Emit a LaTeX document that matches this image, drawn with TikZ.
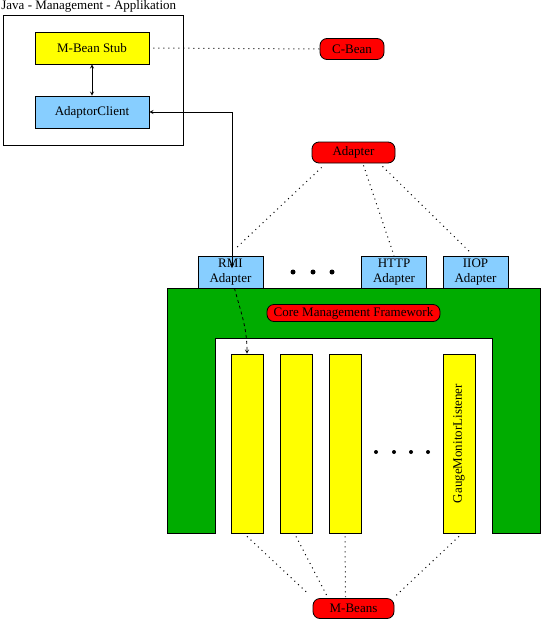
\documentclass[tikz,border=0pt]{standalone}
\usepackage{fontspec}
\setmainfont{Liberation Serif}
\usetikzlibrary{arrows}
\definecolor{stubyellow}{RGB}{255,255,0}
\definecolor{ltblue}{RGB}{135,206,255}
\definecolor{fwgreen}{RGB}{0,172,0}

\begin{document}
\begin{tikzpicture}[x=1pt, y=-1pt, line width=0.8pt, >=stealth,
		every node/.style={font=\fontsize{13}{14.5}\selectfont, inner sep=0pt},
		ybox/.style={draw, fill=stubyellow, minimum width=114pt, minimum height=32pt},
		bbox/.style={draw, fill=ltblue, align=center, minimum width=65pt, minimum height=32pt},
		bean/.style={draw, fill=red, rounded corners=7pt, minimum height=21pt},
		bar/.style={draw, fill=stubyellow, minimum width=32pt, minimum height=179pt},
		dots/.style={line width=1pt, dash pattern=on 1pt off 4pt}]
		\useasboundingbox (0,0) rectangle (542,619);
		
		\node (title) at (1,0.5) [anchor=north west] {Java - Management - Applikation};
		\node (app) at (93,80) [draw, minimum width=180pt, minimum height=130pt] {};
		\node (stub) at (92,48) [ybox] {M-Bean Stub};
		\node (client) at (92,112) [bbox, minimum width=114pt] {AdaptorClient};
		\node (cbean) at (352,49) [bean, minimum width=64pt] {C-Bean};
		\node (adapter) at (353.5,152.5) [bean, minimum width=83pt] {Adapter};
		
		\draw[<->] (stub) -- (client);
		\draw[dots, shorten <=4pt] (stub.east) -- (cbean.west);
		
		\filldraw[fill=fwgreen] (167,288) -- (540,288) -- (540,533) -- (492,533) -- (492,338) -- (215,338) -- (215,533) -- (167,533) -- cycle;
		
		\node (rmi) at (230.5,272) [bbox] {RMI\\Adapter};
		\node (http) at (394,272) [bbox] {HTTP\\Adapter};
		\node (iiop) at (475.5,272) [bbox] {IIOP\\Adapter};
		\foreach \x in {293,313,332}
			\fill (\x,272) circle (2.5pt);
		
		\node (core) at (353.5,313) [bean, minimum width=173pt, minimum height=17pt] {Core Management Framework};
		
		\node (bar1) at (247,443.5) [bar] {};
		\node (bar2) at (296,443.5) [bar] {};
		\node (bar3) at (345,443.5) [bar] {};
		\node (bar4) at (459,443.5) [bar] {\rotatebox{90}{GaugeMonitorListener}};
		\foreach \x in {376,394,411,428}
			\fill (\x,452) circle (2pt);
		
		\node (mbeans) at (353.5,608.5) [bean, minimum width=81pt, minimum height=20pt] {M-Beans};
		
		\coordinate (rmiin) at (232,268);
		\draw[<->] (client.east) -| (rmiin);
		\draw[dashed, ->] ([xshift=4pt]rmi.south) to[out=-75, in=90] (bar1.north);
		
		\draw[dots] ([xshift=10pt, yshift=-4pt]adapter.south west) -- ([xshift=4pt, yshift=6pt]rmi.north);
		\draw[dots] ([xshift=10pt, yshift=-2pt]adapter.south) -- (http.north);
		\draw[dots] ([xshift=29pt, yshift=-3pt]adapter.south) -- ([xshift=-5pt, yshift=3pt]iiop.north);
		
		\draw[dots] ([yshift=-3pt]bar1.south) -- ([xshift=-4pt, yshift=4pt]mbeans.north west);
		\draw[dots] ([yshift=-3pt]bar2.south) -- ([xshift=15pt, yshift=1pt]mbeans.north west);
		\draw[dots] ([yshift=-3pt]bar3.south) -- ([xshift=-8pt, yshift=1pt]mbeans.north);
		\draw[dots] ([yshift=-3pt]bar4.south) -- ([xshift=1pt, yshift=2pt]mbeans.north east);
	\end{tikzpicture}
\end{document}
